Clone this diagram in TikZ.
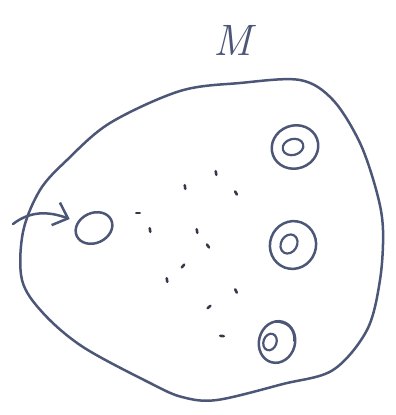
\documentclass[tikz,border=0pt]{standalone}
\usetikzlibrary{arrows.meta,shapes.geometric}
\definecolor{penBlue}{RGB}{76,86,118}
\definecolor{dotGray}{RGB}{52,56,72}

\begin{document}
\begin{tikzpicture}[
  x=1pt, y=-1pt,
  pen/.style={draw=penBlue, line width=2.5pt, line cap=round, line join=round},
  blob/.style={pen, fill=none},
  ring/.style={ellipse, pen, inner sep=0pt},
  hole/.style={ellipse, pen, line width=2.2pt, inner sep=0pt},
  speck/.style={draw=dotGray, line width=2.6pt, line cap=round},
  entry/.style={pen, -{Straight Barb[length=13pt, width=24pt, line width=2.5pt]}}
]
\useasboundingbox (0,0) rectangle (396,415);

% The manifold.
\draw[blob] plot[smooth cycle, tension=0.55] coordinates {
  (300,80) (240,83) (180,91) (110,123) (67,160) (40,190) (23,232)
  (22,280) (43,313) (83,347) (150,383) (182,397) (217,400)
  (283,384) (333,370) (367,330) (380,280) (383,230) (377,193)
  (360,143) (333,100)};
\node[font=\fontsize{44}{44}\selectfont\itshape, text=penBlue] (mlabel) at (233,40) {M};

% Single circle and the arrow into it.
\node[ring, minimum width=38pt, minimum height=30pt, rotate=25] (start) at (94,228) {};
\coordinate (tail) at (13,224);
\draw[entry, shorten >=8pt] (tail) .. controls (30,211) and (48,211) .. (start);

% Double circles on the right.
\node[ring, minimum width=47pt, minimum height=43pt, rotate=20] (topring) at (295,147) {};
\node[hole, minimum width=21pt, minimum height=16pt, rotate=15] (tophole) at (293,147) {};
\node[ring, minimum width=48pt, minimum height=46pt, rotate=70] (midring) at (293,245) {};
\node[hole, minimum width=20pt, minimum height=16pt, rotate=60] (midhole) at (289,244) {};
\node[ring, minimum width=42pt, minimum height=36pt, rotate=75] (lowring) at (277,342) {};
\node[hole, minimum width=17pt, minimum height=13pt, rotate=70] (lowhole) at (270,342) {};
\draw[pen, line width=1.8pt] (274,322) .. controls (288,321) and (295,330) .. (294,341);

% Scattered points.
\foreach \x/\y/\a in {216/173/80, 185/187/80, 236/193/60, 138/213/0, 150/230/80,
    197/231/80, 208/246/55, 183/266/-50, 167/280/80, 236/291/65, 209/307/-40, 222/336/5}
  \draw[speck] (\x,\y) ++(\a:-1.8) -- ++(\a:3.6);

\end{tikzpicture}
\end{document}
